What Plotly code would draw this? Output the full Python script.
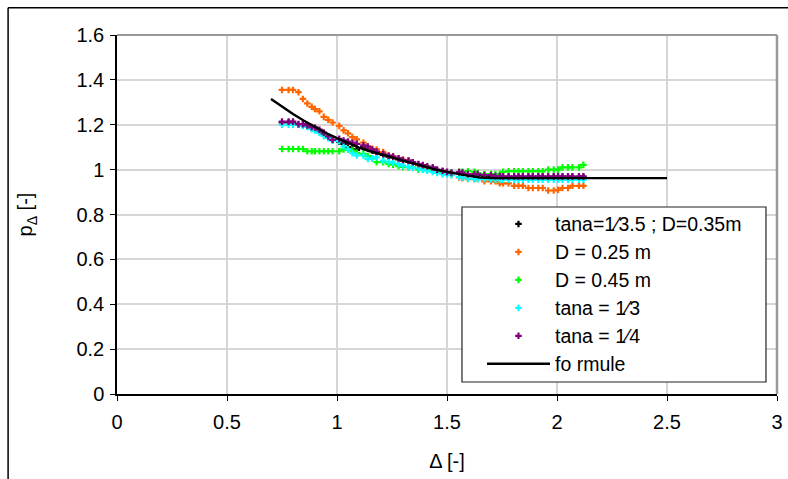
import plotly.graph_objects as go

# Shared Δ positions of the measured points
delta = [0.75, 0.78, 0.80, 0.825, 0.845, 0.865, 0.885, 0.90, 0.92, 0.94, 0.96, 0.98,
         1.01, 1.03, 1.05, 1.07, 1.09, 1.12, 1.14, 1.16, 1.18, 1.21, 1.235, 1.255,
         1.28, 1.30, 1.325, 1.345, 1.37, 1.39, 1.41, 1.435, 1.455, 1.48, 1.50, 1.52,
         1.555, 1.57, 1.595, 1.625, 1.64, 1.67, 1.70, 1.72, 1.74, 1.755, 1.78, 1.805,
         1.825, 1.845, 1.87, 1.89, 1.915, 1.935, 1.96, 1.985, 2.005, 2.025, 2.05, 2.07,
         2.10, 2.12]

p_base = [1.21, 1.21, 1.21, 1.20, 1.20, 1.195, 1.186, 1.182, 1.172, 1.16, 1.145, 1.132,
          1.125, 1.115, 1.10, 1.09, 1.088, 1.10, 1.095, 1.085, 1.076, 1.066, 1.058, 1.054,
          1.046, 1.04, 1.036, 1.03, 1.021, 1.016, 1.011, 1.005, 0.997, 0.992, 0.988, 0.984,
          0.984, 0.982, 0.977, 0.975, 0.975, 0.972, 0.972, 0.968, 0.968, 0.967, 0.967, 0.967,
          0.967, 0.967, 0.967, 0.967, 0.967, 0.967, 0.967, 0.967, 0.967, 0.967, 0.967, 0.967,
          0.967, 0.967]

p_d025 = [1.355, 1.355, 1.355, 1.345, 1.315, 1.295, 1.28, 1.27, 1.26, 1.235, 1.222, 1.21,
          1.195, 1.175, 1.162, 1.145, 1.135, 1.12, 1.103, 1.093, 1.09, 1.078, 1.063, 1.058,
          1.05, 1.045, 1.04, 1.03, 1.022, 1.016, 1.01, 1.0, 0.995, 0.99, 0.985, 0.978,
          0.965, 0.962, 0.958, 0.958, 0.958, 0.948, 0.948, 0.948, 0.939, 0.939, 0.939, 0.928,
          0.928, 0.928, 0.918, 0.918, 0.918, 0.918, 0.907, 0.907, 0.910, 0.918, 0.918, 0.928,
          0.928, 0.928]

p_d045 = [1.092, 1.092, 1.092, 1.092, 1.092, 1.082, 1.082, 1.082, 1.082, 1.082, 1.082, 1.082,
          1.082, 1.09, 1.09, 1.085, 1.075, 1.07, 1.06, 1.05, 1.033, 1.033, 1.025, 1.022,
          1.015, 1.012, 1.01, 1.01, 1.0, 1.0, 1.0, 0.995, 0.99, 0.988, 0.985, 0.985,
          0.99, 0.99, 0.993, 0.99, 0.985, 0.98, 0.98, 0.98, 0.98, 0.99, 0.993, 0.993,
          0.993, 0.993, 0.993, 0.993, 0.993, 0.993, 1.0, 1.0, 1.0, 1.01, 1.01, 1.01,
          1.01, 1.021]

p_t3 = [1.20, 1.20, 1.20, 1.20, 1.195, 1.19, 1.18, 1.175, 1.165, 1.15, 1.14, 1.13,
        1.127, 1.103, 1.09, 1.073, 1.063, 1.063, 1.048, 1.05, 1.055, 1.04, 1.035, 1.031,
        1.025, 1.018, 1.012, 1.008, 1.005, 1.0, 0.995, 0.99, 0.985, 0.98, 0.978, 0.975,
        0.968, 0.965, 0.96, 0.958, 0.958, 0.958, 0.956, 0.956, 0.955, 0.955, 0.955, 0.955,
        0.955, 0.955, 0.955, 0.955, 0.955, 0.955, 0.955, 0.955, 0.955, 0.955, 0.955, 0.955,
        0.955, 0.955]

p_t4 = [1.214, 1.214, 1.214, 1.203, 1.203, 1.197, 1.19, 1.188, 1.178, 1.165, 1.148, 1.133,
        1.137, 1.13, 1.125, 1.12, 1.115, 1.108, 1.103, 1.09, 1.08, 1.07, 1.062, 1.058,
        1.05, 1.043, 1.04, 1.033, 1.025, 1.02, 1.015, 1.01, 1.0, 0.995, 0.99, 0.987,
        0.989, 0.987, 0.98, 0.98, 0.98, 0.976, 0.976, 0.971, 0.971, 0.97, 0.97, 0.97,
        0.97, 0.97, 0.97, 0.97, 0.97, 0.97, 0.97, 0.97, 0.97, 0.97, 0.97, 0.97,
        0.97, 0.97]

formula_x = [0.70, 0.75, 0.80, 0.85, 0.90, 0.95, 1.00, 1.05, 1.10, 1.15, 1.20, 1.25,
             1.30, 1.35, 1.40, 1.45, 1.50, 1.55, 1.60, 1.65, 1.70, 2.50]
formula_y = [1.315, 1.28, 1.248, 1.218, 1.19, 1.163, 1.14, 1.118, 1.098, 1.082, 1.07, 1.055,
             1.04, 1.027, 1.012, 1.0, 0.99, 0.98, 0.972, 0.965, 0.962, 0.962]

series = [
    ("tana=1⁄3.5 ; D=0.35m", p_base, "#000000"),
    ("D = 0.25 m", p_d025, "#FF6600"),
    ("D = 0.45 m", p_d045, "#00FF00"),
    ("tana = 1⁄3", p_t3, "#00FFFF"),
    ("tana = 1⁄4", p_t4, "#800080"),
]

x_ticks = [0, 0.5, 1, 1.5, 2, 2.5, 3]
y_ticks = [0, 0.2, 0.4, 0.6, 0.8, 1, 1.2, 1.4, 1.6]

FONT = "Liberation Sans, Arial, sans-serif"
LEG_TXT = '<span style="font-size:19.5px">{}</span>'

fig = go.Figure()
for name, vals, col in series:
    fig.add_trace(go.Scatter(
        x=delta, y=vals, mode="markers", name=LEG_TXT.format(name),
        marker=dict(symbol="cross", size=5.5, color=col, line=dict(width=0)),
    ))
fig.add_trace(go.Scatter(
    x=formula_x, y=formula_y, mode="lines", name=LEG_TXT.format("fo rmule"),
    line=dict(color="black", width=2.4),
))

fig.update_layout(
    width=788, height=479,
    margin=dict(l=117, r=11, t=35, b=85),
    paper_bgcolor="white", plot_bgcolor="white",
    font=dict(family=FONT, size=20, color="black"),
    showlegend=True,
    legend=dict(
        x=0.553, y=0.5265, xanchor="left", yanchor="top",
        bgcolor="rgba(0,0,0,0)", borderwidth=0,
        font=dict(family=FONT, size=19.2, color="black"),
        itemwidth=63, tracegroupgap=0,
    ),
    xaxis=dict(
        range=[0, 3], tickvals=x_ticks, ticktext=[str(v) for v in x_ticks],
        showgrid=True, gridcolor="#d6d6d6", gridwidth=1.5,
        showline=True, linecolor="black", linewidth=1.5,
        ticks="outside", ticklen=5, tickcolor="black", tickwidth=1,
        zeroline=False, tickfont=dict(size=20), ticklabelstandoff=4,
        title=dict(text="Δ [-]", font=dict(size=20), standoff=22),
        automargin=False,
    ),
    yaxis=dict(
        range=[0, 1.6], tickvals=y_ticks,
        ticktext=["0", "0.2", "0.4", "0.6", "0.8", "1", "1.2", "1.4", "1.6"],
        showgrid=True, gridcolor="#d6d6d6", gridwidth=1.5,
        showline=True, linecolor="black", linewidth=1.5,
        ticks="outside", ticklen=5, tickcolor="black", tickwidth=1,
        zeroline=False, tickfont=dict(size=20), ticklabelstandoff=2,
        title=dict(text="p<sub>Δ</sub> [-]", font=dict(size=20), standoff=38),
        automargin=False,
    ),
)

# plot area frame (top and right, gray)
fig.add_shape(type="line", xref="paper", yref="paper", x0=0, x1=1, y0=1, y1=1,
              line=dict(color="#999999", width=2))
fig.add_shape(type="line", xref="paper", yref="paper", x0=1, x1=1, y0=0, y1=1,
              line=dict(color="#999999", width=2.5))
# legend box
fig.add_shape(type="rect", xref="paper", yref="paper", x0=0.5227, x1=0.9833, y0=0.0334, y1=0.5209,
              line=dict(color="#222222", width=1.2), fillcolor="white", layer="above")
# outer chart frame (top and left, partly cropped)
fig.add_shape(type="line", xref="paper", yref="paper", x0=-0.165, x1=1.05, y0=1.076, y1=1.076,
              line=dict(color="black", width=1.5))
fig.add_shape(type="line", xref="paper", yref="paper", x0=-0.165, x1=-0.165, y0=-0.3, y1=1.076,
              line=dict(color="black", width=1.5))

fig.write_html("out.html")
